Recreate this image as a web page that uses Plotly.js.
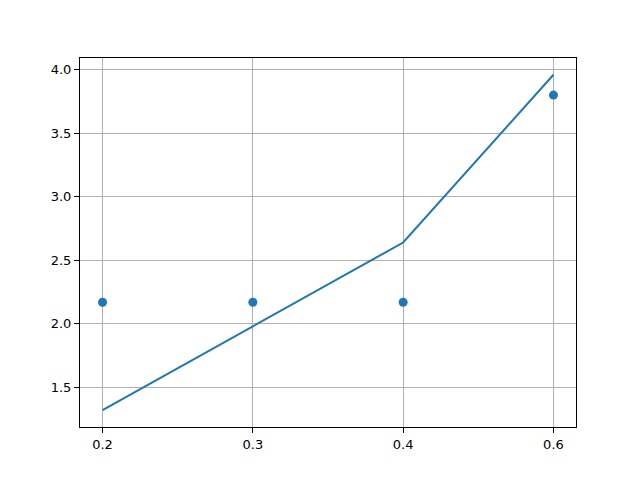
<!DOCTYPE html>
<html>
<head>
<meta charset="utf-8">
<script src="https://cdn.plot.ly/plotly-3.0.1.min.js"></script>
<style>html,body{margin:0;padding:0;background:#fff;}#chart{width:640px;height:480px;}</style>
</head>
<body>
<div id="chart"></div>
<script>
const xLabels = ['0.2', '0.3', '0.4', '0.6'];
const lineY = [1.32, 1.98, 2.64, 3.96];
const scatterY = [2.17, 2.17, 2.17, 3.8];

const xPos = xLabels.map((_, i) => i);

const traces = [
  {
    x: xPos, y: lineY, type: 'scatter', mode: 'lines',
    line: {color: '#1f77b4', width: 2}, showlegend: false
  },
  {
    x: xPos, y: scatterY, type: 'scatter', mode: 'markers',
    marker: {color: '#1f77b4', size: 9}, showlegend: false
  }
];

const axisCommon = {
  showline: true, mirror: true, linecolor: '#000', linewidth: 1,
  showgrid: true, gridcolor: '#b0b0b0', gridwidth: 1,
  zeroline: false, ticks: 'outside', ticklen: 5, tickwidth: 1, tickcolor: '#000',
  tickfont: {family: 'DejaVu Sans', size: 13, color: '#000'}
};

const layout = {
  width: 640, height: 480,
  margin: {l: 80, r: 64, t: 58, b: 53},
  paper_bgcolor: '#fff', plot_bgcolor: '#fff',
  xaxis: Object.assign({}, axisCommon, {
    range: [-0.15, 3.15], tickmode: 'array', tickvals: xPos, ticktext: xLabels
  }),
  yaxis: Object.assign({}, axisCommon, {
    range: [1.188, 4.092], tickmode: 'linear', tick0: 1.5, dtick: 0.5, tickformat: '.1f'
  })
};

Plotly.newPlot('chart', traces, layout, {displayModeBar: false, staticPlot: true});
</script>
</body>
</html>
